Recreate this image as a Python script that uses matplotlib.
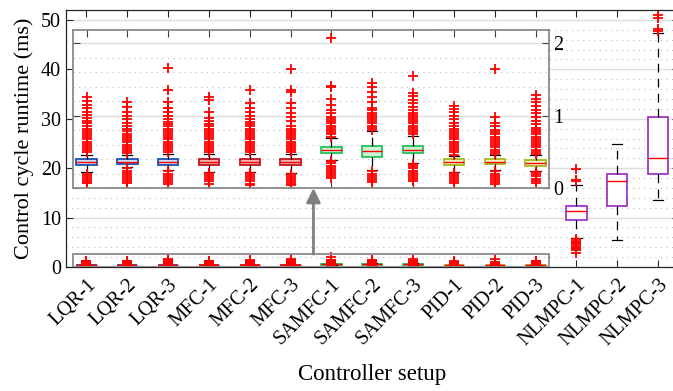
import matplotlib
matplotlib.use('Agg')
import matplotlib.pyplot as plt
from matplotlib.patches import Rectangle
from matplotlib.ticker import MultipleLocator

plt.rcParams['font.family'] = ['Liberation Serif', 'DejaVu Serif']

# ---------------- data (ms) ----------------
names = ['LQR-1', 'LQR-2', 'LQR-3', 'MFC-1', 'MFC-2', 'MFC-3',
         'SAMFC-1', 'SAMFC-2', 'SAMFC-3', 'PID-1', 'PID-2', 'PID-3',
         'NLMPC-1', 'NLMPC-2', 'NLMPC-3']
q1 = [0.32, 0.33, 0.32, 0.32, 0.32, 0.32, 0.48, 0.43, 0.48, 0.32, 0.33, 0.31, 9.6, 12.4, 18.9]
med = [0.36, 0.36, 0.36, 0.36, 0.36, 0.36, 0.52, 0.51, 0.53, 0.36, 0.36, 0.35, 11.4, 17.4, 22.1]
q3 = [0.40, 0.40, 0.40, 0.40, 0.40, 0.40, 0.57, 0.58, 0.58, 0.40, 0.40, 0.39, 12.4, 18.8, 30.4]
whislo = [0.22, 0.29, 0.25, 0.22, 0.22, 0.21, 0.39, 0.25, 0.35, 0.22, 0.25, 0.24, 5.9, 5.5, 13.6]
whishi = [0.46, 0.46, 0.47, 0.47, 0.47, 0.47, 0.69, 0.78, 0.72, 0.44, 0.45, 0.45, 16.6, 24.8, 47.3]
upper_out = [
    [0.49, 0.52, 0.55, 0.58, 0.61, 0.64, 0.67, 0.70, 0.73, 0.76, 0.79, 0.82, 0.85, 0.89, 0.93, 0.97, 1.01, 1.05, 1.10, 1.15, 1.20, 1.26],
    [0.48, 0.51, 0.54, 0.57, 0.60, 0.63, 0.66, 0.69, 0.72, 0.75, 0.78, 0.82, 0.86, 0.90, 0.95, 1.00, 1.05, 1.12, 1.19],
    [0.49, 0.52, 0.55, 0.58, 0.61, 0.64, 0.67, 0.70, 0.73, 0.76, 0.79, 0.82, 0.85, 0.88, 0.91, 0.95, 1.00, 1.05, 1.10, 1.19, 1.35, 1.65],
    [0.49, 0.52, 0.55, 0.58, 0.61, 0.64, 0.67, 0.70, 0.73, 0.76, 0.79, 0.82, 0.85, 0.88, 0.92, 0.97, 1.05, 1.21, 1.26],
    [0.49, 0.52, 0.55, 0.58, 0.61, 0.64, 0.67, 0.70, 0.73, 0.76, 0.79, 0.82, 0.85, 0.88, 0.91, 0.95, 1.00, 1.05, 1.10, 1.17, 1.35],
    [0.49, 0.52, 0.55, 0.58, 0.61, 0.64, 0.67, 0.70, 0.73, 0.76, 0.79, 0.82, 0.85, 0.92, 0.98, 1.04, 1.10, 1.17, 1.33, 1.35, 1.64],
    [0.71, 0.74, 0.77, 0.80, 0.83, 0.86, 0.89, 0.92, 0.95, 0.98, 1.03, 1.08, 1.15, 1.23, 1.39, 1.41, 2.07],
    [0.80, 0.83, 0.86, 0.89, 0.92, 0.95, 0.98, 1.01, 1.04, 1.08, 1.10, 1.18, 1.26, 1.33, 1.40, 1.45],
    [0.74, 0.77, 0.80, 0.83, 0.86, 0.89, 0.92, 0.95, 0.98, 1.01, 1.04, 1.07, 1.12, 1.17, 1.22, 1.27, 1.31, 1.55],
    [0.46, 0.49, 0.52, 0.55, 0.58, 0.61, 0.64, 0.67, 0.70, 0.73, 0.76, 0.79, 0.82, 0.86, 0.90, 0.95, 1.00, 1.05, 1.09, 1.13],
    [0.47, 0.50, 0.53, 0.56, 0.59, 0.62, 0.65, 0.68, 0.71, 0.74, 0.77, 0.80, 0.85, 0.90, 0.98, 1.64],
    [0.47, 0.50, 0.53, 0.56, 0.59, 0.62, 0.65, 0.68, 0.71, 0.74, 0.77, 0.80, 0.83, 0.88, 0.93, 0.98, 1.03, 1.08, 1.13, 1.18, 1.23, 1.28],
    [17.3, 17.6, 19.8],
    [],
    [47.7, 48.2, 50.3, 50.9],
]
lower_out = [
    [0.20, 0.17, 0.14, 0.11, 0.08, 0.07],
    [0.27, 0.24, 0.21, 0.18, 0.15, 0.12, 0.09, 0.07],
    [0.23, 0.20, 0.17, 0.14, 0.11, 0.08, 0.06],
    [0.21, 0.18, 0.15, 0.12, 0.09, 0.06],
    [0.21, 0.18, 0.15, 0.12, 0.09, 0.06, 0.04],
    [0.20, 0.17, 0.14, 0.11, 0.08, 0.05, 0.04],
    [0.37, 0.34, 0.31, 0.28, 0.25, 0.22, 0.19, 0.16, 0.14],
    [0.23, 0.20, 0.17, 0.14, 0.11, 0.08],
    [0.33, 0.30, 0.27, 0.24, 0.21, 0.18, 0.15, 0.12, 0.09],
    [0.21, 0.18, 0.15, 0.12, 0.09, 0.07],
    [0.23, 0.20, 0.17, 0.14, 0.11, 0.08, 0.05],
    [0.22, 0.19, 0.16, 0.13, 0.10, 0.07],
    [5.6, 5.35, 5.1, 4.85, 4.6, 4.35, 4.1, 3.85, 3.6, 3.4, 2.8],
    [],
    [],
]
edge_colors = ['#1f4fb3'] * 3 + ['#c0141e'] * 3 + ['#22c45c'] * 3 + ['#a8b81e'] * 3 + ['#a336c8'] * 3
face_colors = ['#c9dcf5'] * 3 + ['#f3b4b4'] * 3 + ['#caf0d6'] * 3 + ['#eef3c4'] * 3 + ['#ffffff'] * 3

# ---------------- figure ----------------
fig = plt.figure(figsize=(6.73, 3.91), dpi=100)
W, H = 673.0, 391.0
ax = fig.add_axes([66 / W, 1 - 267 / H, (678.5 - 66) / W, (267 - 10) / H])
ax.set_xlim(0.5, 15.5)
ax.set_ylim(0, 52)

stats = []
for i in range(len(names)):
    stats.append(dict(med=med[i], q1=q1[i], q3=q3[i], whislo=whislo[i], whishi=whishi[i],
                      fliers=upper_out[i] + lower_out[i], label=names[i]))

positions = list(range(1, len(names) + 1))


def draw_boxes(a, st, pos, ec, fc):
    bp = a.bxp(st, positions=pos, widths=0.5, patch_artist=True, showfliers=True,
               capwidths=0.25,
               medianprops=dict(color='#ff0000', lw=1.0),
               whiskerprops=dict(color='black', lw=0.9, linestyle=(0, (7, 5))),
               capprops=dict(color='black', lw=0.9),
               flierprops=dict(marker='+', markeredgecolor='#ff0000', markersize=7,
                               markeredgewidth=1.3, linestyle='none'),
               boxprops=dict(lw=1.3))
    for patch, e, f in zip(bp['boxes'], ec, fc):
        patch.set_edgecolor(e)
        patch.set_facecolor(f)
    return bp


draw_boxes(ax, stats, positions, edge_colors, face_colors)

ax.yaxis.set_major_locator(MultipleLocator(10))
ax.yaxis.set_minor_locator(MultipleLocator(2))
ax.grid(axis='y', which='major', color='#dedede', lw=1.0)
ax.grid(axis='y', which='minor', color='#bdbdbd', lw=0.8, linestyle=(0, (1, 4)))
ax.set_axisbelow(True)
ax.tick_params(which='both', direction='in', top=True, right=True, width=0.8,
               labelsize=14.5, colors='#262626', labelcolor='black')
ax.tick_params(which='major', length=5)
ax.tick_params(which='minor', length=0)
ax.set_xticks(positions)
ax.set_xticklabels(names, rotation=45, ha='right', rotation_mode='anchor', fontsize=14.5)
ax.tick_params(axis='x', pad=6)
for s in ax.spines.values():
    s.set_color('#262626')
    s.set_linewidth(0.9)
ax.set_ylabel('Control cycle runtime (ms)', fontsize=16, labelpad=5)
ax.set_xlabel('Controller setup', fontsize=16.5, labelpad=10)

# zoom region marker and arrow
ins_x0, ins_x1 = 0.66, 12.33
ax.add_patch(Rectangle((ins_x0, 0), ins_x1 - ins_x0, 2.6, fill=False,
                       ec='#8a8a8a', lw=1.3, zorder=6))
ins_bottom_main = (267 - 188) / (257 / 52)
ax.annotate('', xy=(6.56, ins_bottom_main), xytext=(6.56, 2.6),
            arrowprops=dict(arrowstyle='-|>,head_length=0.85,head_width=0.42',
                            color='#808080', lw=2.0, shrinkA=0, shrinkB=0),
            zorder=6)

# ---------------- inset ----------------
ins = fig.add_axes([72.7 / W, 1 - 188 / H, (549 - 72.7) / W, (188 - 30) / H])
ins.set_xlim(ins_x0, ins_x1)
ins.set_ylim(0, 2.18)
draw_boxes(ins, stats[:12], positions[:12], edge_colors[:12], face_colors[:12])
ins.yaxis.set_major_locator(MultipleLocator(1))
ins.yaxis.set_minor_locator(MultipleLocator(0.2))
ins.grid(axis='y', which='major', color='#dedede', lw=1.0)
ins.grid(axis='y', which='minor', color='#bdbdbd', lw=0.8, linestyle=(0, (1, 4)))
ins.set_axisbelow(True)
ins.set_xticks(positions[:12])
ins.set_xticklabels([])
ins.yaxis.tick_right()
ins.tick_params(which='both', direction='in', top=True, bottom=True, left=True, right=True,
                width=0.8, labelsize=14.5, colors='#404040', labelcolor='black')
ins.tick_params(which='major', length=5)
ins.tick_params(which='minor', length=0)
ins.tick_params(axis='y', pad=3)
for s in ins.spines.values():
    s.set_color('#8a8a8a')
    s.set_linewidth(1.3)

fig.savefig('out.png', dpi=100)
